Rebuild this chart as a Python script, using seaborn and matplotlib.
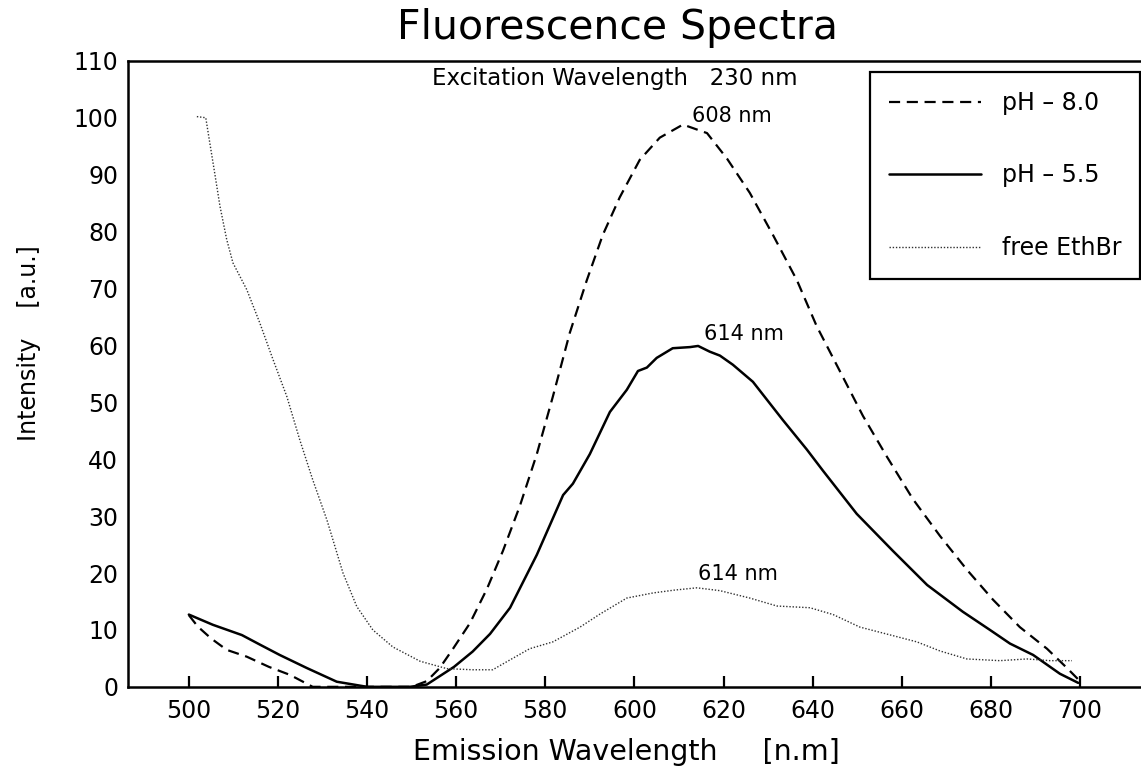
import numpy as np
import pandas as pd
import matplotlib
matplotlib.use("Agg")
import matplotlib.pyplot as plt
import seaborn as sns

# ---------------- data ----------------
wl_ph80 = [500, 502, 505, 508.5, 513, 518, 522.7, 527.8, 535, 545, 550,
           553.4, 556.3, 559.3, 563.1, 566.9, 570.5, 574.3, 578.1, 581.7,
           585.5, 589.3, 592.9, 596.7, 601.2, 605.7, 610.9, 616.3, 620.8,
           625.9, 631.1, 636.5, 640.9, 646.1, 651.3, 656.7, 662.5, 668.6,
           674.6, 680.5, 686.5, 692.6, 697.1, 700]
int_ph80 = [12.6, 10.6, 8.5, 6.5, 5.3, 3.5, 2.1, 0.0, 0.0, 0.0, 0.0,
            1.0, 3.3, 6.7, 11.2, 17.2, 23.9, 31.8, 40.9, 51.0,
            62.2, 71.4, 79.4, 86.0, 92.6, 96.5, 98.8, 97.3, 92.8,
            86.8, 79.4, 71.4, 63.4, 55.5, 47.6, 40.4, 33.0, 26.5,
            20.6, 15.3, 10.5, 6.7, 3.3, 1.0]

wl_ph55 = [500, 505.4, 511.9, 516, 520.4, 526.5, 533.2, 540, 549.6, 553.4,
           559.5, 563.7, 567.6, 572.1, 578.1, 584, 586.2, 590, 594.5, 598.3,
           600.8, 602.8, 605, 608.6, 612.5, 614.3, 616.9, 619.2, 622.1, 626.6,
           633.3, 638.7, 642.3, 649.9, 658, 665.7, 673.7, 679.8, 684.3, 689.5,
           695.5, 699.6]
int_ph55 = [12.7, 10.9, 9.1, 7.4, 5.6, 3.3, 0.9, 0.0, 0.0, 0.4,
            3.5, 6.2, 9.3, 13.9, 23.2, 33.7, 35.7, 40.9, 48.3, 52.2,
            55.5, 56.1, 57.8, 59.5, 59.7, 59.9, 58.9, 58.2, 56.6, 53.6,
            46.9, 41.7, 38.0, 30.4, 23.9, 17.9, 13.2, 10.0, 7.6, 5.6,
            2.3, 0.7]

wl_free = [501.8, 503.8, 504.7, 505.8, 507, 508.5, 509.9, 513, 515.9, 518.9,
           522, 524.9, 527.8, 531, 534.6, 537.7, 541.3, 545.8, 551.9, 557.9,
           563.7, 568.2, 572, 576.5, 581.7, 587.8, 592.3, 598.3, 604.2, 609,
           614, 619.2, 625.9, 632, 639.4, 644.6, 650.6, 658, 663.4, 668.6,
           674.6, 682, 688.1, 693.3, 698.2]
int_free = [100.2, 100.0, 95.6, 90.3, 84.4, 78.6, 74.5, 69.8, 64.0, 57.5,
            51.0, 43.4, 36.4, 29.3, 20.0, 14.1, 10.0, 7.0, 4.5, 3.2,
            3.0, 3.0, 4.7, 6.7, 7.9, 10.5, 12.8, 15.6, 16.5, 17.0,
            17.4, 16.9, 15.6, 14.2, 13.9, 12.7, 10.5, 9.0, 7.9, 6.3,
            4.9, 4.6, 4.9, 4.6, 4.6]

series_labels = ["pH \u2013 8.0", "pH \u2013 5.5", "free EthBr"]
x_ticks = [500, 520, 540, 560, 580, 600, 620, 640, 660, 680, 700]
y_ticks = [0, 10, 20, 30, 40, 50, 60, 70, 80, 90, 100, 110]
peak_labels = ["608 nm", "614 nm", "614 nm"]

# ---------------- figure ----------------
sns.set_theme(style="white")
plt.rcParams['font.family'] = ['DejaVu Sans']
plt.rcParams['text.color'] = 'black'
plt.rcParams['axes.labelcolor'] = 'black'
plt.rcParams['xtick.color'] = 'black'
plt.rcParams['ytick.color'] = 'black'

fig = plt.figure(figsize=(11.41, 7.70), dpi=100)
ax = fig.add_axes([0.112, 0.108, 0.888, 0.813])

sns.lineplot(x=wl_ph80, y=int_ph80, ax=ax, color="black", lw=1.6,
             linestyle=(0, (5, 3)), label=series_labels[0],
             estimator=None, sort=False)
sns.lineplot(x=wl_ph55, y=int_ph55, ax=ax, color="black", lw=1.8,
             linestyle="-", label=series_labels[1], estimator=None, sort=False)
sns.lineplot(x=wl_free, y=int_free, ax=ax, color="#303030", lw=1.0,
             linestyle=(0, (1, 1.3)), label=series_labels[2],
             estimator=None, sort=False)

ax.set_xlim(486.3, 713.7)
ax.set_ylim(0, 110)
ax.set_xticks(x_ticks)
ax.set_yticks(y_ticks)
ax.set_xticklabels([str(v) for v in x_ticks], fontsize=17, color="black")
ax.set_yticklabels([str(v) for v in y_ticks], fontsize=17, color="black")
ax.tick_params(axis="x", direction="in", length=8, width=1.6, pad=9,
               colors="black", bottom=True)
ax.tick_params(axis="y", length=0, pad=7, colors="black", left=False)

for side in ["left", "top", "bottom"]:
    ax.spines[side].set_visible(True)
    ax.spines[side].set_color("black")
    ax.spines[side].set_linewidth(1.8)
ax.spines["right"].set_visible(False)
ax.grid(False)
ax.set_xlabel("")
ax.set_ylabel("")

# annotations
ax.text(0.481, 0.962, "Excitation Wavelength   230 nm", transform=ax.transAxes,
        ha="center", va="baseline", fontsize=16.5, color="black")
ax.text(621.9, 99.3, peak_labels[0], ha="center", va="baseline", fontsize=15,
        color="black")
ax.text(624.5, 61.0, peak_labels[1], ha="center", va="baseline", fontsize=15,
        color="black")
ax.text(623.3, 18.8, peak_labels[2], ha="center", va="baseline", fontsize=15,
        color="black")

# titles / labels
fig.text(0.541, 0.950, "Fluorescence Spectra", ha="center", va="baseline",
         fontsize=29.5, color="black")
fig.text(0.549, 0.013, "Emission Wavelength     [n.m]", ha="center",
         va="baseline", fontsize=20.5, color="black")
fig.text(0.025, 0.555, "Intensity    [a.u.]", ha="center", va="center",
         rotation=90, fontsize=17, color="black")

leg = ax.legend(loc="upper right", bbox_to_anchor=(0.9995, 0.982),
                borderaxespad=0, fontsize=17, handlelength=3.9,
                handletextpad=0.9, labelspacing=2.05, borderpad=0.8,
                fancybox=False, framealpha=1, edgecolor="black")
leg.get_frame().set_linewidth(1.6)
for t in leg.get_texts():
    t.set_color("black")

fig.savefig("out.png", dpi=100)
